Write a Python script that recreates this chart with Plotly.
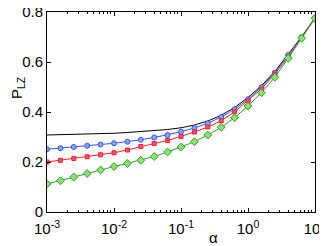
import plotly.graph_objects as go

log_alpha = [-3.0, -2.8, -2.6, -2.4, -2.2, -2.0, -1.8, -1.6, -1.4, -1.2, -1.0,
             -0.8, -0.6, -0.4, -0.2, 0.0, 0.2, 0.4, 0.6, 0.8, 1.0]
alpha = [10 ** v for v in log_alpha]

p_black = [0.308, 0.309, 0.310, 0.311, 0.313, 0.315, 0.318, 0.321, 0.325, 0.330, 0.337,
           0.348, 0.364, 0.387, 0.418, 0.458, 0.505, 0.562, 0.631, 0.701, 0.776]
p_blue = [0.251, 0.255, 0.260, 0.265, 0.270, 0.275, 0.281, 0.289, 0.298, 0.308, 0.321,
          0.336, 0.355, 0.380, 0.411, 0.451, 0.499, 0.557, 0.628, 0.699, 0.775]
p_red = [0.200, 0.207, 0.214, 0.221, 0.229, 0.237, 0.248, 0.262, 0.274, 0.286, 0.302,
         0.320, 0.340, 0.365, 0.401, 0.445, 0.492, 0.552, 0.621, 0.697, 0.775]
p_green = [0.112, 0.125, 0.140, 0.154, 0.168, 0.182, 0.194, 0.207, 0.222, 0.240, 0.260,
           0.281, 0.308, 0.339, 0.377, 0.424, 0.477, 0.539, 0.615, 0.695, 0.775]

x_tickvals = [1e-3, 1e-2, 1e-1, 1e0, 1e1]
x_ticktext = ["10<sup>-3</sup>", "10<sup>-2</sup>", "10<sup>-1</sup>", "10<sup>0</sup>", "10<sup>1</sup>"]
y_tickvals = [0, 0.2, 0.4, 0.6, 0.8]
y_ticktext = ["0", "0.2", "0.4", "0.6", "0.8"]

minor_vals = [m * 10 ** e for e in range(-3, 1) for m in range(2, 10)]

fig = go.Figure()
fig.add_trace(go.Scatter(x=alpha, y=p_black, mode="lines",
                         line=dict(color="black", width=1)))
fig.add_trace(go.Scatter(x=alpha, y=p_blue, mode="lines+markers",
                         line=dict(color="#3355ff", width=1),
                         marker=dict(symbol="circle", size=5, color="#88a4ff",
                                     line=dict(color="#3355ff", width=1))))
fig.add_trace(go.Scatter(x=alpha, y=p_red, mode="lines+markers",
                         line=dict(color="#ff2222", width=1),
                         marker=dict(symbol="square", size=4, color="#ff4d8c",
                                     line=dict(color="#ff2222", width=1))))
fig.add_trace(go.Scatter(x=alpha, y=p_green, mode="lines+markers",
                         line=dict(color="#2ca02c", width=1),
                         marker=dict(symbol="diamond", size=6, color="#8fe070",
                                     line=dict(color="#2ca02c", width=1))))

font = dict(family="Liberation Sans, Arial, sans-serif", size=15, color="black")

# page body has an 8px default margin, so the figure is offset by 8px
fig.update_layout(
    width=319, height=238,
    margin=dict(l=39, r=12, t=4, b=34),
    paper_bgcolor="white", plot_bgcolor="white",
    showlegend=False,
    font=font,
    xaxis=dict(type="log", range=[-3, 1], tickmode="array",
               tickvals=x_tickvals, ticktext=x_ticktext,
               ticks="inside", ticklen=4, tickcolor="black",
               showline=True, linecolor="black", linewidth=1, mirror="ticks",
               showgrid=False, zeroline=False, automargin=False,
               ticklabelstandoff=3, ticklabeloverflow="allow",
               minor=dict(tickmode="array", tickvals=minor_vals, ticks="inside",
                          ticklen=2, tickcolor="black"),
               tickfont=dict(size=15)),
    yaxis=dict(range=[0, 0.8], tickmode="array",
               tickvals=y_tickvals, ticktext=y_ticktext,
               ticks="inside", ticklen=4, tickcolor="black",
               showline=True, linecolor="black", linewidth=1, mirror="ticks",
               showgrid=False, zeroline=False, automargin=False,
               ticklabeloverflow="allow",
               tickfont=dict(size=15)),
    annotations=[
        dict(text="α", xref="paper", yref="paper", x=(213 - 47) / 268, y=-(238 - 212) / 200,
             xanchor="center", yanchor="middle", showarrow=False, font=dict(size=15)),
        dict(text="P<sub>LZ</sub>", xref="paper", yref="paper", x=(17 - 47) / 268,
             y=(212 - 88) / 200, xanchor="center", yanchor="middle", textangle=-90,
             showarrow=False, font=dict(size=15)),
    ],
)

fig.write_html("out.html")
